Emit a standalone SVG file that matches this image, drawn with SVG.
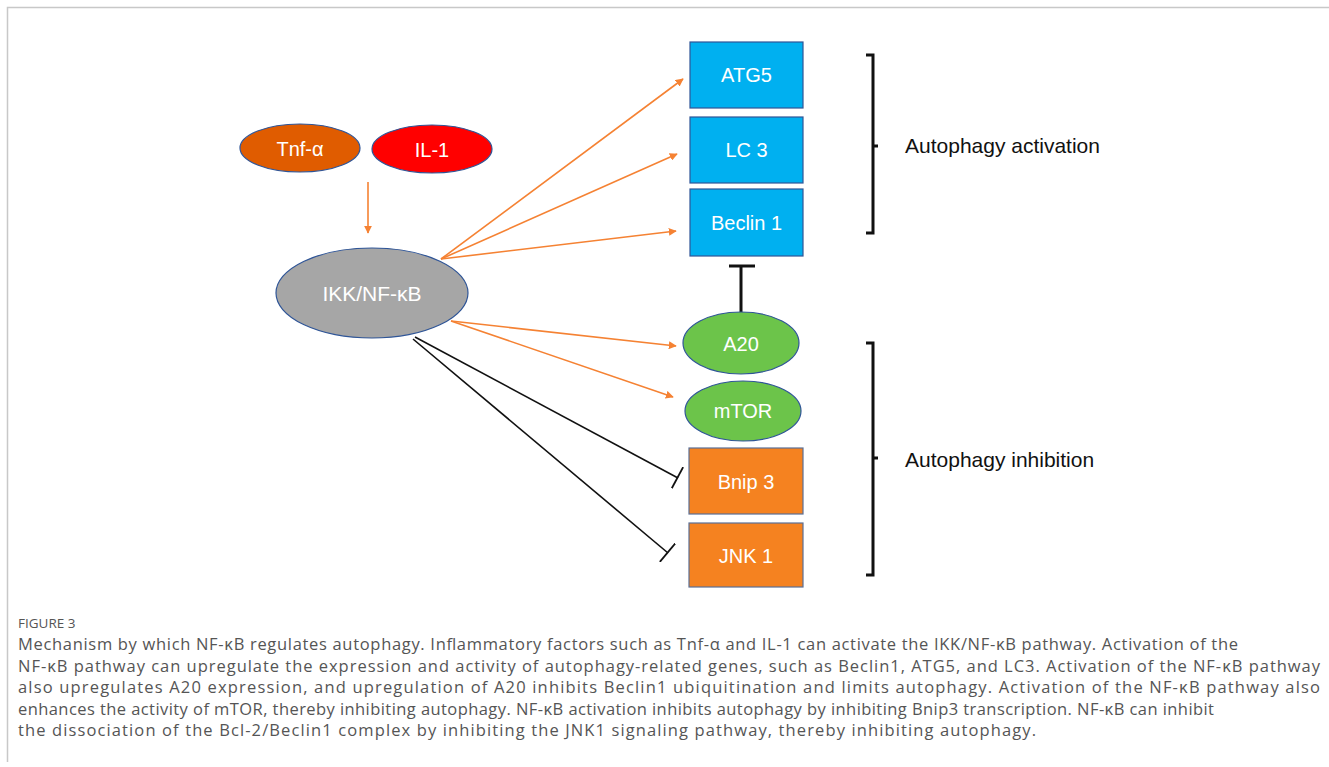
<svg xmlns="http://www.w3.org/2000/svg" width="1329" height="767" viewBox="0 0 1329 767">
<defs>
<marker id="arr" viewBox="0 0 10 10" refX="9" refY="5" markerWidth="8" markerHeight="8" markerUnits="userSpaceOnUse" orient="auto">
<path d="M0,0 L10,5 L0,10 z" fill="#f58233"/>
</marker>
<marker id="tee" viewBox="0 0 4 24" refX="2" refY="12" markerWidth="4" markerHeight="24" markerUnits="userSpaceOnUse" orient="auto">
<rect x="0.5" y="0" width="1.8" height="24" fill="#111"/>
</marker>
</defs>
<style>
.lbl{font-family:"Liberation Sans",Arial,sans-serif;font-size:20px;fill:#fff;text-anchor:middle}
.side{font-family:"Liberation Sans",Arial,sans-serif;font-size:21px;fill:#111}
.cap{font-family:"Open Sans","Liberation Sans",sans-serif;font-size:16.5px;fill:#555}
.act{stroke:#f58233;stroke-width:1.6;fill:none;marker-end:url(#arr)}
.inh{stroke:#111;stroke-width:1.6;fill:none;marker-end:url(#tee)}
.br{stroke:#111;stroke-width:3;fill:none}
.blue{fill:#00b0f0;stroke:#2f5597;stroke-width:1.2}
.orng{fill:#f58220;stroke:#5b6f95;stroke-width:1.2}
.green{fill:#6cc44a;stroke:#2f5597;stroke-width:1.2}
</style>
<rect width="1329" height="767" fill="#fff"/>
<path d="M7.5,762 V7.5 H1329" stroke="#c8c8c8" stroke-width="1.5" fill="none"/>

<g id="connectors">
<line class="act" x1="368" y1="182" x2="368" y2="233"/>
<line class="act" x1="441" y1="259" x2="683" y2="79"/>
<line class="act" x1="441" y1="259" x2="677" y2="154"/>
<line class="act" x1="441" y1="259" x2="676" y2="231"/>
<line class="act" x1="451" y1="321" x2="676" y2="346"/>
<line class="act" x1="451" y1="321" x2="673" y2="397"/>
<line class="inh" x1="415" y1="337" x2="678" y2="478"/>
<line class="inh" x1="413" y1="339" x2="668" y2="553"/>
<line stroke="#111" stroke-width="3" x1="741" y1="313" x2="741" y2="266"/>
<line stroke="#111" stroke-width="3" x1="729" y1="266" x2="755" y2="266"/>
</g>

<g id="tnf"><ellipse cx="300" cy="148" rx="60" ry="24" fill="#e05c00" stroke="#2f5597" stroke-width="1.2"/><text class="lbl" x="300" y="156">Tnf-α</text></g>
<g id="il1"><ellipse cx="432" cy="149" rx="60" ry="24" fill="#ff0000" stroke="#2f5597" stroke-width="1.2"/><text class="lbl" x="432" y="157">IL-1</text></g>
<g id="ikk"><ellipse cx="372" cy="293" rx="96" ry="45" fill="#a6a6a6" stroke="#2f5597" stroke-width="1.2"/><text class="lbl" x="372" y="301" style="font-size:21px">IKK/NF-κB</text></g>

<g id="atg5"><rect class="blue" x="690" y="42" width="113" height="66"/><text class="lbl" x="746.5" y="82">ATG5</text></g>
<g id="lc3"><rect class="blue" x="690" y="117" width="113" height="66"/><text class="lbl" x="746.5" y="157">LC 3</text></g>
<g id="beclin1"><rect class="blue" x="690" y="189" width="113" height="67"/><text class="lbl" x="746.5" y="230">Beclin 1</text></g>

<g id="a20"><ellipse class="green" cx="741" cy="343" rx="58" ry="31"/><text class="lbl" x="741" y="351">A20</text></g>
<g id="mtor"><ellipse class="green" cx="743" cy="411" rx="58" ry="30"/><text class="lbl" x="743" y="418">mTOR</text></g>

<g id="bnip3"><rect class="orng" x="689" y="448" width="114" height="66"/><text class="lbl" x="746" y="489">Bnip 3</text></g>
<g id="jnk1"><rect class="orng" x="689" y="523" width="114" height="64"/><text class="lbl" x="746" y="563">JNK 1</text></g>

<g id="bracket-activation">
<path class="br" d="M866,55 H873 V233 H866 M873,146 H878"/>
<text class="side" x="905" y="153">Autophagy activation</text>
</g>
<g id="bracket-inhibition">
<path class="br" d="M866,343 H873 V575 H866 M873,458 H878"/>
<text class="side" x="905" y="467">Autophagy inhibition</text>
</g>

<g id="caption">
<text x="18" y="628" style="font-family:'Open Sans','Liberation Sans',sans-serif;font-size:13.5px;fill:#555">FIGURE 3</text>
<text class="cap" x="18" y="650" textLength="1220" lengthAdjust="spacing">Mechanism by which NF-κB regulates autophagy. Inflammatory factors such as Tnf-α and IL-1 can activate the IKK/NF-κB pathway. Activation of the</text>
<text class="cap" x="18" y="671.5" textLength="1302" lengthAdjust="spacing">NF-κB pathway can upregulate the expression and activity of autophagy-related genes, such as Beclin1, ATG5, and LC3. Activation of the NF-κB pathway</text>
<text class="cap" x="18" y="693" textLength="1302" lengthAdjust="spacing">also upregulates A20 expression, and upregulation of A20 inhibits Beclin1 ubiquitination and limits autophagy. Activation of the NF-κB pathway also</text>
<text class="cap" x="18" y="714.5" textLength="1196" lengthAdjust="spacing">enhances the activity of mTOR, thereby inhibiting autophagy. NF-κB activation inhibits autophagy by inhibiting Bnip3 transcription. NF-κB can inhibit</text>
<text class="cap" x="18" y="736" textLength="1018" lengthAdjust="spacing">the dissociation of the Bcl-2/Beclin1 complex by inhibiting the JNK1 signaling pathway, thereby inhibiting autophagy.</text>
</g>
</svg>
